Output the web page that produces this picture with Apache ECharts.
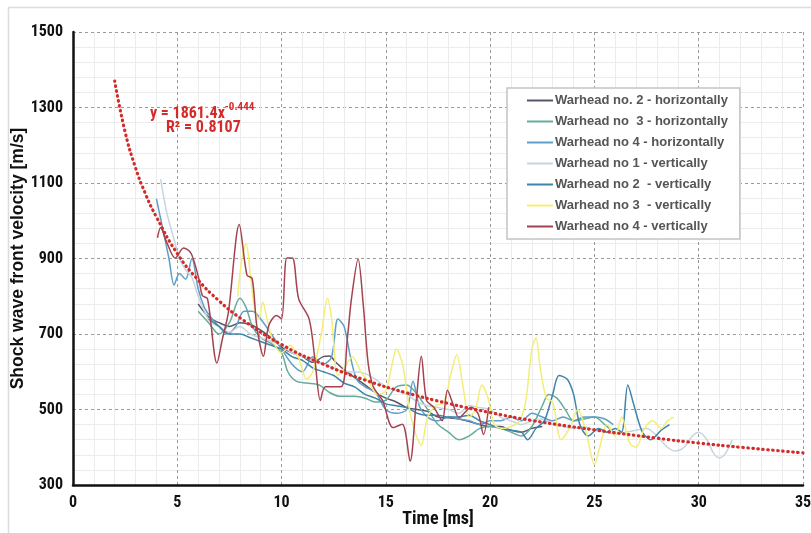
<!DOCTYPE html>
<html>
<head>
<meta charset="utf-8">
<script src="https://cdn.jsdelivr.net/npm/echarts@6/dist/echarts.min.js"></script>
<style>
  html, body { margin: 0; padding: 0; background: #fff; }
  #chart { width: 811px; height: 533px; }
</style>
</head>
<body>
<div id="chart"></div>
<script>
// series names and colours
const names = [
  "Warhead no. 2 - horizontally",
  "Warhead no  3 - horizontally",
  "Warhead no 4 - horizontally",
  "Warhead no 1 - vertically",
  "Warhead no 2  - vertically",
  "Warhead no 3  - vertically",
  "Warhead no 4 - vertically",
];
const colors = ["#5b5568", "#67ab9a", "#5e9ec8", "#c6d6e0", "#3d85aa", "#f2ee78", "#a4434f"];

// [time ms, velocity m/s]
const h2 = [[6.0,780],[6.5,745],[7.0,730],[7.5,720],[8.0,730],[8.5,725],[9.0,710],[9.5,690],[10.0,665],[10.5,650],[11.0,640],[11.5,625],[12.0,640],[12.3,642],[12.6,625],[13.0,605],[13.5,585],[14.0,565],[14.5,545],[15.0,530],[15.5,520],[16.0,505],[16.5,500],[17.0,495],[17.5,480],[18.0,478],[18.5,475],[19.0,468],[19.5,460],[20.0,455],[20.5,455],[21.0,445],[21.5,440],[22.0,450],[22.5,455]];
const h3 = [[6.0,760],[6.5,730],[7.0,700],[7.5,730],[8.0,795],[8.3,770],[8.6,720],[9.0,690],[9.5,675],[10.0,650],[10.3,600],[10.7,575],[11.2,570],[11.8,565],[12.3,545],[12.8,535],[13.5,535],[14.0,530],[14.5,520],[15.0,525],[15.5,560],[16.0,565],[16.5,540],[17.0,500],[17.5,460],[18.0,440],[18.5,420],[19.0,430],[19.5,450],[20.0,455],[20.5,450],[21.0,440],[21.5,430],[22.0,455],[22.5,510],[22.8,540],[23.2,530],[23.6,500],[24.0,470],[24.5,475],[25.0,480],[25.5,460],[26.0,435]];
const h4 = [[4.0,1058],[4.3,980],[4.6,900],[4.85,830],[5.1,860],[5.4,845],[5.7,900],[6.0,820],[6.3,770],[6.6,745],[7.0,720],[7.4,700],[7.8,720],[8.2,760],[8.6,760],[9.0,740],[9.5,700],[10.0,660],[10.5,620],[11.0,600],[11.5,640],[12.0,620],[12.4,640],[12.7,740],[13.0,720],[13.3,640],[13.6,580],[14.0,560],[14.5,545],[15.0,500],[15.5,490],[16.0,500],[16.3,575],[16.6,510],[17.0,480],[17.5,470],[18.0,480],[18.5,475],[19.0,470],[19.5,460],[20.0,470],[20.5,470],[21.0,480],[21.5,470],[22.0,490],[22.5,480],[23.0,470],[23.5,480],[24.0,470],[24.5,480],[25.0,480],[25.5,475],[25.9,460]];
const v1 = [[4.2,1110],[4.5,1020],[4.8,960],[5.1,900],[5.4,870],[5.7,850],[6.0,800],[6.3,760],[6.6,730],[7.0,720],[7.5,705],[8.0,720],[8.5,700],[9.0,690],[9.5,680],[10.0,670],[10.5,650],[11.0,640],[11.5,630],[12.0,620],[12.5,610],[13.0,600],[13.5,600],[14.0,595],[14.5,580],[15.0,560],[15.5,550],[16.0,540],[16.5,520],[17.0,510],[17.5,505],[18.0,500],[18.5,490],[19.0,510],[19.5,505],[20.0,500],[20.5,480],[21.0,470],[21.5,460],[22.0,470],[22.5,475],[23.0,460],[23.5,455],[24.0,450],[24.5,455],[25.0,445],[25.5,440],[26.0,435],[26.5,440],[27.0,445],[27.5,450],[28.0,430],[28.5,400],[28.9,390],[29.3,400],[29.7,430],[30.0,440],[30.4,420],[30.7,385],[31.0,372],[31.3,385],[31.6,420]];
const v2 = [[6.5,740],[7.0,720],[7.5,700],[8.0,700],[8.5,690],[9.0,680],[9.5,670],[10.0,660],[10.5,640],[11.0,630],[11.5,610],[12.0,600],[12.5,590],[13.0,570],[13.5,560],[14.0,540],[14.5,530],[15.0,515],[15.5,510],[16.0,505],[16.5,490],[17.0,485],[17.5,485],[18.0,480],[18.5,480],[19.0,485],[19.5,470],[20.0,460],[20.5,450],[21.0,445],[21.5,440],[21.8,420],[22.2,450],[22.6,470],[23.0,540],[23.3,590],[23.7,580],[24.0,540],[24.3,460],[24.7,430],[25.2,450],[25.6,440],[26.0,450],[26.3,440],[26.6,565],[26.9,510],[27.3,440],[27.7,420],[28.2,445],[28.6,460]];
const v3 = [[7.9,800],[8.1,900],[8.3,940],[8.5,860],[8.7,770],[8.9,740],[9.1,785],[9.3,740],[9.6,680],[10.0,650],[10.4,670],[10.8,640],[11.2,580],[11.5,600],[11.9,700],[12.2,795],[12.4,740],[12.7,590],[13.0,610],[13.4,640],[13.8,600],[14.2,570],[14.6,540],[15.0,550],[15.3,620],[15.5,660],[15.8,620],[16.1,510],[16.4,440],[16.7,405],[17.0,480],[17.4,510],[17.8,520],[18.1,590],[18.4,645],[18.7,560],[19.0,480],[19.3,500],[19.6,565],[19.9,530],[20.2,460],[20.6,450],[21.0,455],[21.4,470],[21.7,520],[22.0,660],[22.2,690],[22.4,610],[22.7,530],[23.0,520],[23.4,420],[23.8,450],[24.2,500],[24.6,440],[25.0,355],[25.3,410],[25.6,460],[26.0,430],[26.3,480],[26.7,410],[27.0,400],[27.4,450],[27.8,470],[28.2,450],[28.5,470],[28.8,480]];
const v4 = [[4.05,955],[4.2,982],[4.47,946],[4.9,901],[5.3,928],[5.66,914],[6.03,847],[6.2,802],[6.45,793],[6.9,623],[7.16,686],[7.45,757],[7.97,990],[8.34,856],[8.59,847],[8.81,722],[9.13,641],[9.38,722],[9.76,749],[10.0,740],[10.25,901],[10.52,901],[10.82,793],[11.32,740],[11.6,632],[11.86,524],[12.1,560],[12.85,560],[13.15,686],[13.35,793],[13.67,899],[13.92,775],[14.15,623],[14.4,560],[14.84,524],[15.34,452],[15.79,461],[16.16,363],[16.46,524],[16.7,641],[16.95,524],[17.3,506],[17.7,470],[17.95,551],[18.27,506],[18.5,479],[19.1,506],[19.43,488],[19.68,434],[19.93,506]];
const seriesData = [h2, h3, h4, v1, v2, v3, v4];

// power trend line
const trend = [[2,1370],[2.5,1235],[3,1140],[3.5,1068],[4,1010],[5,913],[6,843],[7,788],[8,743],[10,672],[12,620],[14,578],[16,544],[18,516],[20,492],[22,471],[25,446],[28,424],[30,411],[32,400],[35,385]];

const xTicks = { min: 0, max: 35, interval: 5 };
const yTicks = { min: 300, max: 1500, interval: 200 };

const chart = echarts.init(document.getElementById("chart"));

const lineSeries = seriesData.map((d, i) => ({
  name: names[i],
  type: "line",
  data: d,
  symbol: "none",
  smooth: 0.3,
  lineStyle: { width: 1.5, color: colors[i] },
  itemStyle: { color: colors[i] },
  z: 2,
}));

lineSeries.push({
  name: "trend",
  type: "line",
  data: trend,
  symbol: "none",
  smooth: true,
  lineStyle: { width: 3.2, color: "#d42a2a", type: [0.5, 4.5], cap: "round" },
  z: 5,
});

const labelFont = "Liberation Sans Narrow, Roboto Condensed, Liberation Sans";

const option = {
  backgroundColor: "#fff",
  animation: false,
  grid: { left: 73, right: 8, top: 32, bottom: 48, outerBoundsMode: "none", containLabel: false },
  legend: {
    data: names,
    orient: "vertical",
    left: 507,
    top: 88,
    padding: [6, 12, 6, 20],
    itemGap: 8,
    itemWidth: 26,
    itemHeight: 2,
    icon: "rect",
    backgroundColor: "#fff",
    borderColor: "#c4c4c4",
    borderWidth: 1.5,
    textStyle: {
      color: "#555",
      fontSize: 13,
      fontWeight: "bold",
      fontFamily: "Liberation Sans, Arial",
      padding: [0, 0, 0, -3],
    },
  },
  xAxis: {
    type: "value",
    min: xTicks.min,
    max: xTicks.max,
    interval: xTicks.interval,
    name: "Time [ms]",
    nameLocation: "middle",
    nameGap: 25,
    nameMoveOverlap: false,
    nameTextStyle: { color: "#111", fontSize: 18, fontWeight: "bold", fontFamily: labelFont },
    axisLine: { lineStyle: { color: "#111", width: 2.5 } },
    axisTick: { show: false },
    axisLabel: { color: "#111", fontSize: 16, fontWeight: "bold", margin: 10, fontFamily: labelFont },
    splitLine: { show: true, lineStyle: { color: "#9a9a9a", type: [3, 3], width: 1 } },
    minorTick: { show: false, splitNumber: 5 },
    minorSplitLine: { show: true, lineStyle: { color: "#ececec", width: 1 } },
  },
  yAxis: {
    type: "value",
    min: yTicks.min,
    max: yTicks.max,
    interval: yTicks.interval,
    name: "Shock wave front velocity [m/s]",
    nameLocation: "middle",
    nameGap: 46,
    nameMoveOverlap: false,
    nameTextStyle: { color: "#111", fontSize: 17.5, fontWeight: "bold", fontFamily: "Liberation Sans, Arial" },
    axisLine: { show: true, lineStyle: { color: "#111", width: 2.5 } },
    axisTick: { show: false },
    axisLabel: { color: "#111", fontSize: 16, fontWeight: "bold", margin: 10, fontFamily: labelFont, formatter: (v) => String(v) },
    splitLine: { show: true, lineStyle: { color: "#9a9a9a", type: [3, 3], width: 1 } },
    minorTick: { show: false, splitNumber: 5 },
    minorSplitLine: { show: true, lineStyle: { color: "#ececec", width: 1 } },
  },
  graphic: [
    {
      type: "rect",
      left: 6,
      top: 5,
      shape: { width: 820, height: 540 },
      style: { fill: "none", stroke: "#dcdcdc", lineWidth: 1.5 },
      silent: true,
      z: -10,
    },
    {
      type: "text",
      left: 150,
      top: 102,
      style: {
        text: "{b|y = 1861.4x}{s|-0.444}",
        rich: {
          b: { fill: "#d42a2a", fontSize: 16, fontWeight: "bold", fontFamily: labelFont, verticalAlign: "bottom" },
          s: { fill: "#d42a2a", fontSize: 11, fontWeight: "bold", fontFamily: labelFont, padding: [0, 0, 9, 0], verticalAlign: "top" },
        },
      },
      z: 10,
    },
    {
      type: "text",
      left: 166,
      top: 120,
      style: {
        text: "R\u00b2 = 0.8107",
        fill: "#d42a2a",
        fontSize: 16,
        fontWeight: "bold",
        fontFamily: labelFont,
      },
      z: 10,
    },
  ],
  series: lineSeries,
};

chart.setOption(option);
</script>
</body>
</html>
